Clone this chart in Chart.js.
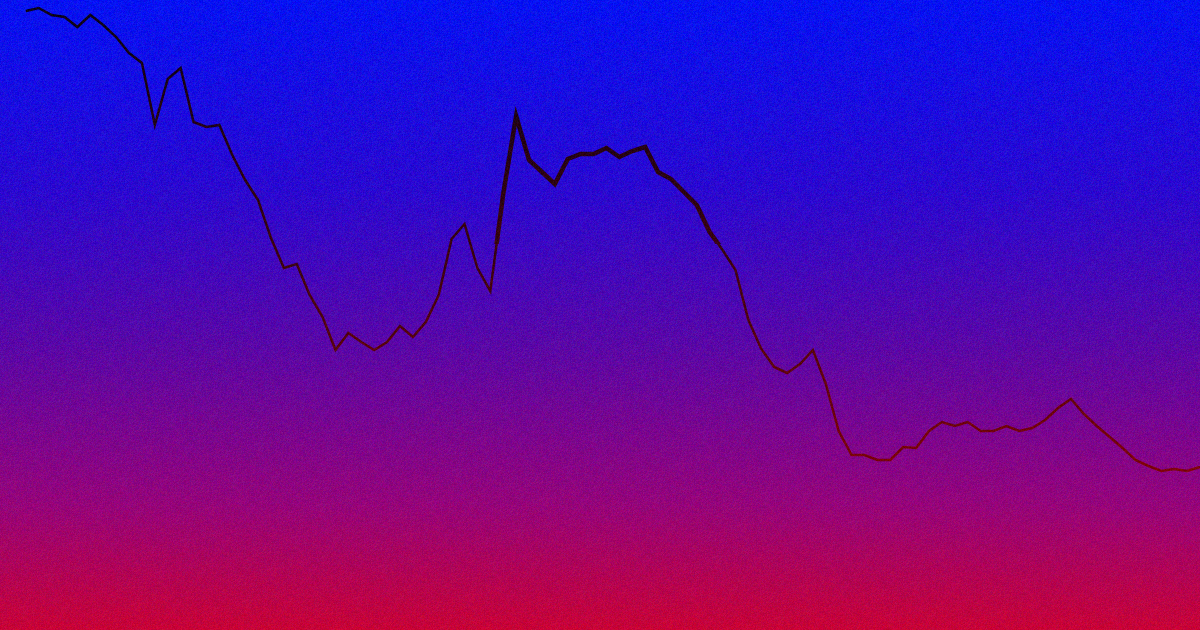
<!DOCTYPE html>
<html>
<head>
<meta charset="utf-8">
<script src="https://cdn.jsdelivr.net/npm/chart.js@4.4.1/dist/chart.umd.min.js"></script>
<style>
  html, body { margin: 0; padding: 0; background: #3a06a8; }
  #wrap { width: 1200px; height: 630px; position: relative; }
</style>
</head>
<body>
<div id="wrap"><canvas id="trend"></canvas></div>
<script>
// series, one value per step (higher = nearer the top)
const values = [
  619, 622, 615, 613, 603, 615, 605, 593, 577, 567,
  505, 551, 562, 508, 503, 505, 475, 450, 430, 392,
  362, 366, 335, 313, 280, 297, 288, 280, 288, 304,
  293, 308, 335, 391, 406, 362, 339, 436, 514, 470,
  458, 446, 471, 476, 476, 482, 473, 479, 483, 458,
  451, 438, 425, 398, 380, 360, 310, 281, 263, 257,
  266, 280, 246, 199, 175, 175, 170, 170, 183, 182,
  199, 208, 204, 208, 199, 199, 204, 199, 202, 210,
  222, 231, 216, 204, 193, 182, 170, 164, 159, 161,
  159, 163
];
const steps = values.map((v, i) => i);

// stretch drawn heavier, only where it sits above the threshold
const highlightFrom = 36;
const highlightTo = 54;
const highlightAbove = 386;

const xRange = [-2, 91];
const yRange = [0, 630];

const mainPoints = steps.map(i => ({ x: i, y: values[i] }));
const highPoints = steps
  .filter(i => i >= highlightFrom && i <= highlightTo)
  .map(i => ({ x: i, y: values[i] }));

function lineGradient(context) {
  const chart = context.chart;
  const area = chart.chartArea;
  if (!area) return '#400010';
  const g = chart.ctx.createLinearGradient(0, area.top, 0, area.bottom);
  g.addColorStop(0, '#0a0018');
  g.addColorStop(0.4, '#3a0010');
  g.addColorStop(0.75, '#7e0008');
  g.addColorStop(1, '#a00010');
  return g;
}

// background gradient
const backdrop = {
  id: 'backdrop',
  beforeDraw(chart) {
    const ctx = chart.ctx;
    const g = ctx.createLinearGradient(0, 0, 0, chart.height);
    g.addColorStop(0, '#0612f2');
    g.addColorStop(0.3, '#2a08d0');
    g.addColorStop(0.55, '#5a06a6');
    g.addColorStop(0.8, '#95027a');
    g.addColorStop(1, '#c80036');
    ctx.save();
    ctx.fillStyle = g;
    ctx.fillRect(0, 0, chart.width, chart.height);
    ctx.restore();
  }
};

// grain over the whole picture
const grain = {
  id: 'grain',
  afterDraw(chart) {
    const ctx = chart.ctx;
    const w = chart.canvas.width, h = chart.canvas.height;
    const img = ctx.getImageData(0, 0, w, h);
    const d = img.data;
    let seed = 12345;
    for (let p = 0; p < d.length; p += 4) {
      for (let c = 0; c < 3; c++) {
        seed = (seed * 1103515245 + 12345) & 0x7fffffff;
        const n = ((seed >> 8) % 29) - 14;
        d[p + c] = Math.max(0, Math.min(255, d[p + c] + n));
      }
    }
    ctx.putImageData(img, 0, 0);
  }
};

// keep the heavy line above the threshold value only
const thresholdClip = {
  id: 'thresholdClip',
  beforeDatasetDraw(chart, args) {
    if (args.index !== 1) return;
    const ctx = chart.ctx;
    const yPix = chart.scales.y.getPixelForValue(highlightAbove);
    ctx.save();
    ctx.beginPath();
    ctx.rect(0, 0, chart.width, yPix);
    ctx.clip();
  },
  afterDatasetDraw(chart, args) {
    if (args.index !== 1) return;
    chart.ctx.restore();
  }
};

new Chart(document.getElementById('trend'), {
  type: 'line',
  data: {
    datasets: [
      {
        data: mainPoints,
        borderColor: lineGradient,
        borderWidth: 2.5,
        pointRadius: 0,
        tension: 0,
        fill: false
      },
      {
        data: highPoints,
        borderColor: lineGradient,
        borderWidth: 4.5,
        pointRadius: 0,
        tension: 0,
        fill: false
      }
    ]
  },
  options: {
    responsive: true,
    maintainAspectRatio: false,
    animation: false,
    events: [],
    layout: { padding: 0 },
    plugins: { legend: { display: false }, tooltip: { enabled: false } },
    scales: {
      x: { type: 'linear', min: xRange[0], max: xRange[1], display: false },
      y: { type: 'linear', min: yRange[0], max: yRange[1], display: false }
    }
  },
  plugins: [backdrop, thresholdClip, grain]
});
</script>
</body>
</html>
